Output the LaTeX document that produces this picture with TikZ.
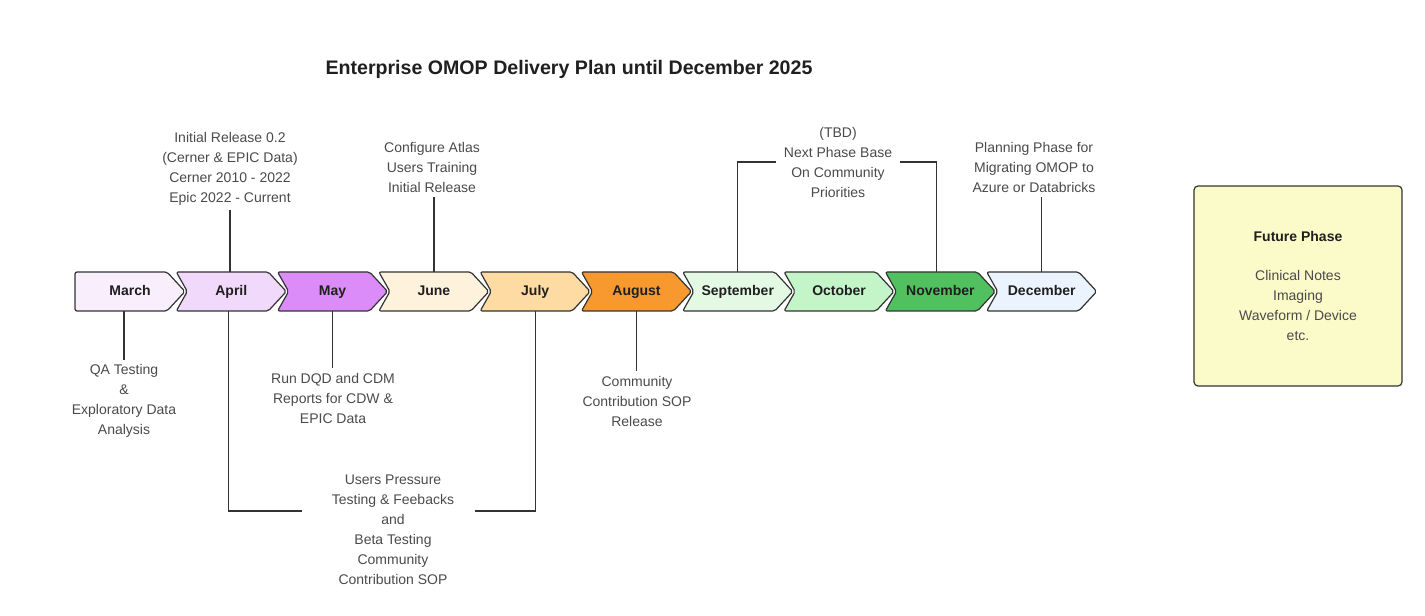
\documentclass[tikz,border=0pt]{standalone}
\usepackage{fontspec}
\setmainfont{Liberation Sans}

\definecolor{linegray}{HTML}{333333}
\definecolor{notegray}{HTML}{4A4A4A}
\definecolor{labeldark}{HTML}{1F1F1F}
\definecolor{marchfill}{HTML}{F8EEFC}
\definecolor{aprilfill}{HTML}{F1D9FB}
\definecolor{mayfill}{HTML}{DC8CF8}
\definecolor{junefill}{HTML}{FFF2DC}
\definecolor{julyfill}{HTML}{FEDBA2}
\definecolor{augfill}{HTML}{F8992F}
\definecolor{sepfill}{HTML}{E3F9E3}
\definecolor{octfill}{HTML}{C3F5C8}
\definecolor{novfill}{HTML}{50C15E}
\definecolor{decfill}{HTML}{EAF3FE}
\definecolor{futurefill}{HTML}{FBFAC9}

\begin{document}
\begin{tikzpicture}[x=0.75pt, y=-0.75pt,
  chevron/.style={draw=linegray, line width=0.9pt, rounded corners=1.5pt, line join=round},
  month/.style={minimum height=29.25pt, inner sep=0pt, text height=7.6pt, text depth=2.2pt,
    font=\fontsize{10.5}{12}\selectfont\bfseries, text=labeldark},
  note/.style={align=center, font=\fontsize{10.5}{15}\selectfont, text=notegray},
  conn/.style={draw=linegray, line width=0.9pt}]
\useasboundingbox (0,0) rectangle (1425,616);

\node[font=\fontsize{14.7}{17}\selectfont\bfseries, text=labeldark] (title) at (569,69) {Enterprise OMOP Delivery Plan until December 2025};

% months
\foreach \n/\lbl/\c [count=\i from 0] in {mar/March/marchfill, apr/April/aprilfill,
    may/May/mayfill, jun/June/junefill, jul/July/julyfill, aug/August/augfill,
    sep/September/sepfill, oct/October/octfill, nov/November/novfill, dec/December/decfill} {
  \pgfmathsetmacro{\xa}{75+101.3*\i}
  \pgfmathsetmacro{\nd}{ifthenelse(\i==0,0,11)}
  \filldraw[chevron, fill=\c] (\xa,272) -- ++(92,0) -- ++(18,19.5) -- ++(-18,19.5)
    -- ++(-92,0) -- ++(\nd,-19.5) -- cycle;
  \node[month] (\n) at (\xa+55,291.5) {\lbl};
}

% notes above
\node[note] (aprtxt) at (230,168.5) {Initial Release 0.2\\(Cerner \& EPIC Data)\\Cerner 2010 - 2022\\Epic 2022 - Current};
\node[note] (juntxt) at (432,167.5) {Configure Atlas\\Users Training\\Initial Release};
\node[note, inner xsep=6pt] (tbdtxt) at (838,162) {(TBD)\\Next Phase Base\\On Community\\Priorities};
\node[note] (dectxt) at (1034,167.5) {Planning Phase for\\Migrating OMOP to\\Azure or Databricks};

% notes below
\node[note] (qatxt) at (124,401) {QA Testing\\\&\\Exploratory Data\\Analysis};
\node[note] (maytxt) at (333,398) {Run DQD and CDM\\Reports for CDW \&\\EPIC Data};
\node[note] (augtxt) at (637,401) {Community\\Contribution SOP\\Release};
\node[note] (usrtxt) at (393,530) {Users Pressure\\Testing \& Feebacks\\and\\Beta Testing\\Community\\Contribution SOP};
\coordinate (usrL) at (302,511);
\coordinate (usrR) at (475,511);

\node[draw=linegray, line width=0.9pt, fill=futurefill, rounded corners=3pt,
  minimum width=156pt, minimum height=150pt, note] (future) at (1298,286)
  {\textcolor{labeldark}{\bfseries Future Phase}\\[14pt]Clinical Notes\\Imaging\\Waveform / Device\\etc.};

\draw[conn] ([xshift=-1pt]apr.north) -- ([xshift=-1pt]apr.north |- aprtxt.south);
\draw[conn] (jun.north) -- (jun.north |- juntxt.south);
\draw[conn] (sep.north) |- (tbdtxt.west);
\draw[conn] ([xshift=-3pt]nov.north) |- (tbdtxt.east);
\draw[conn] (dec.north) -- (dec.north |- dectxt.south);

\draw[conn] (qatxt.north |- mar.south) -- (qatxt.north);
\draw[conn] (may.south) -- (may.south |- maytxt.north);
\draw[conn] (aug.south) -- (aug.south |- augtxt.north);
\draw[conn] ([xshift=-2pt]apr.south) |- (usrL);
\draw[conn] (jul.south) |- (usrR);
\end{tikzpicture}
\end{document}
